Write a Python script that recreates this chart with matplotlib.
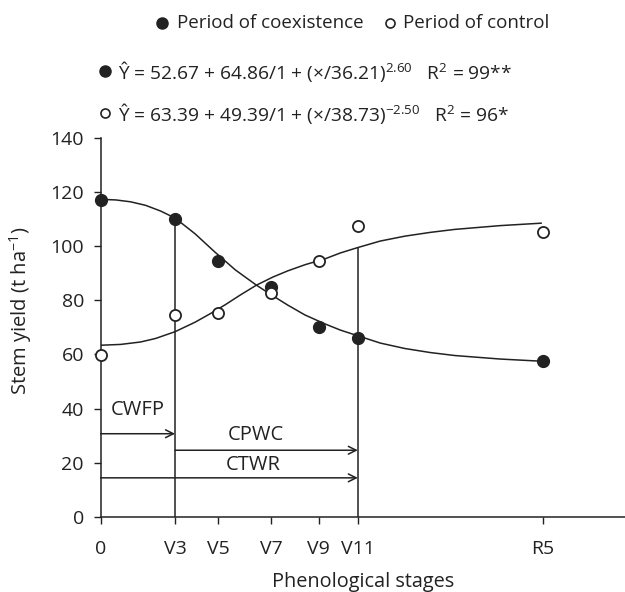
import matplotlib
matplotlib.use("Agg")
import matplotlib.pyplot as plt
from matplotlib.lines import Line2D

plt.rcParams['font.family'] = ['Open Sans', 'DejaVu Sans']
plt.rcParams['mathtext.fontset'] = 'custom'
plt.rcParams['mathtext.rm'] = 'Open Sans'
plt.rcParams['mathtext.it'] = 'Open Sans:italic'
plt.rcParams['mathtext.default'] = 'rm'

INK = '#222222'

# stages, placed on an (estimated) days-after-emergence scale
stages = ['0', 'V3', 'V5', 'V7', 'V9', 'V11', 'R5']
stage_pos = [0, 14.9, 23.5, 34.2, 43.7, 51.5, 88.5]

# observed stem yield (t/ha)
coexist_obs = [117.1, 110.2, 94.6, 85.1, 70.0, 65.9, 57.4]
control_obs = [59.9, 74.4, 75.4, 82.8, 94.6, 107.5, 105.4]

# fitted curves
coexist_fit_x = [0, 3, 6, 9, 12, 14.9, 18.9, 22.9, 27.0, 31.2, 34.2, 37.5, 40.9,
                 44.9, 48, 51.5, 56, 60.9, 66, 70.9, 80, 88.2]
coexist_fit_y = [117.3, 117.1, 116.4, 115.1, 113.0, 110.4, 104.6, 97.8, 91.2, 85.6,
                 82.0, 78.2, 74.6, 71.3, 69.0, 66.9, 64.2, 62.2, 60.7, 59.6, 58.3, 57.5]
control_fit_x = [0, 4, 8, 11, 14.9, 18.9, 21.9, 24.9, 28, 31.2, 34.5, 37.5, 41, 44.9,
                 48, 51.5, 56, 60.9, 66, 70.9, 80, 88.2]
control_fit_y = [63.4, 63.7, 64.6, 65.9, 68.4, 71.9, 75.0, 78.3, 82.0, 85.6, 88.6,
                 90.9, 93.2, 95.3, 97.5, 99.5, 101.9, 103.7, 105.1, 106.2, 107.6, 108.5]

# period arrows: (start, end, height, label, label x, label y)
periods = [
    (0, 14.9, 30.7, 'CWFP', 7.5, 39.6),
    (14.9, 51.5, 24.6, 'CPWC', 31.0, 30.4),
    (0, 51.5, 14.4, 'CTWR', 30.5, 19.3),
]

fig = plt.figure(figsize=(6.25, 5.92), dpi=100)
ax = fig.add_axes([0.161, 0.127, 0.839, 0.640])

ax.plot(coexist_fit_x, coexist_fit_y, color=INK, lw=1.1)
ax.plot(control_fit_x, control_fit_y, color=INK, lw=1.1)

# vertical marks at V3 and V11
ax.plot([stage_pos[1], stage_pos[1]], [0, coexist_obs[1]], color=INK, lw=1.1)
ax.plot([stage_pos[5], stage_pos[5]], [0, control_fit_y[15]], color=INK, lw=1.1)

ax.plot(stage_pos, coexist_obs, 'o', color=INK, ms=8.5, clip_on=False, zorder=5)
ax.plot(stage_pos, control_obs, 'o', mfc='white', mec=INK, mew=1.3, ms=8,
        clip_on=False, zorder=5)

for x0, x1, h, lab, lx, ly in periods:
    ax.annotate('', xy=(x1, h), xytext=(x0, h),
                arrowprops=dict(arrowstyle='->', color=INK, lw=1.1,
                                shrinkA=0, shrinkB=0, mutation_scale=14))
    ax.text(lx, ly, lab, ha='center', va='center', fontsize=14.5, color=INK)

ax.set_xlim(0, 105)
ax.set_ylim(0, 140)
ax.set_yticks(range(0, 141, 20))
ax.set_xticks(stage_pos)
ax.set_xticklabels(stages)
ax.tick_params(axis='both', labelsize=14, colors=INK, length=5, width=1, pad=7)
ax.tick_params(axis='x', pad=12)
for s in ['top', 'right']:
    ax.spines[s].set_visible(False)
for s in ['left', 'bottom']:
    ax.spines[s].set_color(INK)
    ax.spines[s].set_linewidth(1.1)

ax.set_xlabel('Phenological stages', fontsize=14.3, color=INK, labelpad=10)
ax.set_ylabel('Stem yield (t ha$^{-1}$)', fontsize=14.5, color=INK)
ax.yaxis.set_label_coords(-0.128, 0.543)

# legend and equations at the top
W, H = 625.0, 592.0


def fx(px):
    return px / W


def fy(py):
    return 1 - py / H


fig.add_artist(Line2D([fx(162)], [fy(23)], marker='o', color=INK, ms=8, ls=''))
fig.text(fx(177), fy(23), 'Period of coexistence', fontsize=13.5, color=INK, va='center')
fig.add_artist(Line2D([fx(390)], [fy(23)], marker='o', mfc='white', mec=INK, mew=1.2, ms=6.5, ls=''))
fig.text(fx(403), fy(23), 'Period of control', fontsize=13.5, color=INK, va='center')

fig.add_artist(Line2D([fx(105)], [fy(71)], marker='o', color=INK, ms=8, ls=''))
fig.text(fx(118), fy(71),
         'Ŷ = 52.67 + 64.86/1 + (×/36.21)$^{2.60}$   R$^{2}$ = 99**',
         fontsize=13.8, color=INK, va='center')
fig.add_artist(Line2D([fx(105)], [fy(113)], marker='o', mfc='white', mec=INK, mew=1.2, ms=6.5, ls=''))
fig.text(fx(118), fy(113),
         'Ŷ = 63.39 + 49.39/1 + (×/38.73)$^{-2.50}$   R$^{2}$ = 96*',
         fontsize=13.8, color=INK, va='center')

fig.savefig('out.png', dpi=100)
